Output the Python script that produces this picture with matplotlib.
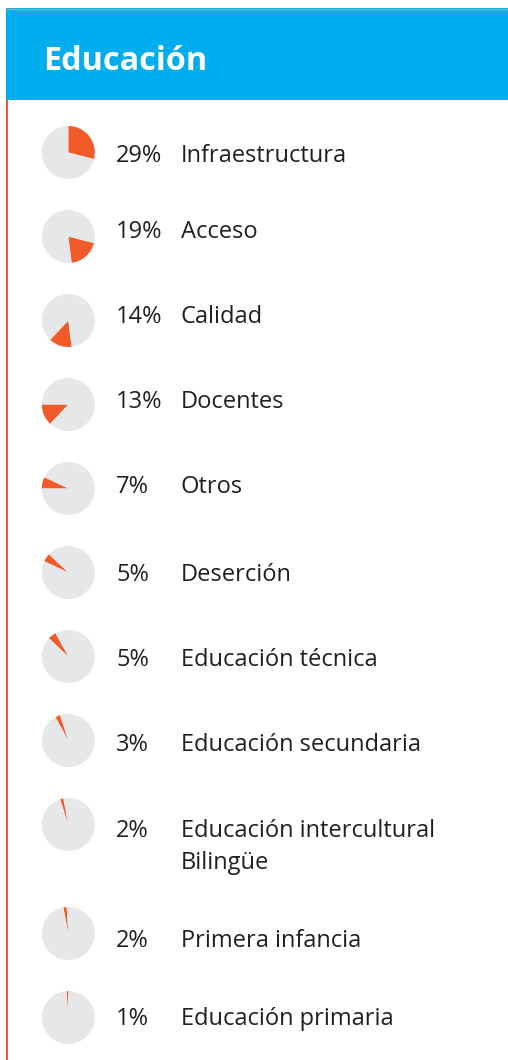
import matplotlib
matplotlib.use("Agg")
import matplotlib.pyplot as plt
from matplotlib.patches import Rectangle

# ---- data ----
title = "Educación"
categories = ["Infraestructura", "Acceso", "Calidad", "Docentes", "Otros",
              "Deserción", "Educación técnica", "Educación secundaria",
              "Educación intercultural\nBilingüe", "Primera infancia",
              "Educación primaria"]
values = [29, 19, 14, 13, 7, 5, 5, 3, 2, 2, 1]

# ---- style ----
BLUE = "#00AEEF"
ORANGE = "#F15A29"
GREY = "#E6E7E8"
TEXT = "#231F20"
FONT = ["Open Sans", "DejaVu Sans"]

W, H = 508, 1060
fig = plt.figure(figsize=(W / 100, H / 100), dpi=100)
ax = fig.add_axes([0, 0, 1, 1])
ax.set_xlim(0, W)
ax.set_ylim(0, H)
ax.axis("off")


def Y(py):
    return H - py


# header band
ax.add_patch(Rectangle((6, Y(100)), W - 6, 92, facecolor=BLUE, edgecolor="none"))
ax.plot([6, W], [Y(8.5), Y(8.5)], color="#9AA6AE", lw=1.0, solid_capstyle="butt")
ax.text(43.5, Y(70), title, color="white", fontsize=23.3, fontweight="bold",
        family=FONT, va="baseline", ha="left")

# orange vertical rule
ax.add_patch(Rectangle((6, 0), 2.4, Y(100), facecolor=ORANGE, edgecolor="none"))

# layout (pixel positions)
pie_x, pie_r = 68.3, 26.5
first_pie_y, row_step, extra_line = 152.5, 84, 25
baselines = [162, 238, 323, 408, 493, 581, 666, 751, 837, 947, 1025]
line_gap = 32

cum = 0
extra = 0
for i, (cat, v) in enumerate(zip(categories, values)):
    py = first_pie_y + row_step * i + extra
    ax.pie([v, 100 - v], colors=[ORANGE, GREY], startangle=90 - cum * 3.6,
           counterclock=False, center=(pie_x, Y(py)), radius=pie_r,
           wedgeprops=dict(linewidth=0), frame=True)
    b = baselines[i]
    ax.text(116, Y(b), f"{v}%", color=TEXT, fontsize=17, family=FONT,
            va="baseline", ha="left")
    for k, line in enumerate(cat.split("\n")):
        ax.text(181, Y(b + line_gap * k), line, color=TEXT, fontsize=17,
                family=FONT, va="baseline", ha="left")
    extra += extra_line * (len(cat.split("\n")) - 1)
    cum += v

ax.set_xlim(0, W)
ax.set_ylim(0, H)
ax.set_aspect("auto")
ax.axis("off")
fig.savefig("out.png", dpi=100)
